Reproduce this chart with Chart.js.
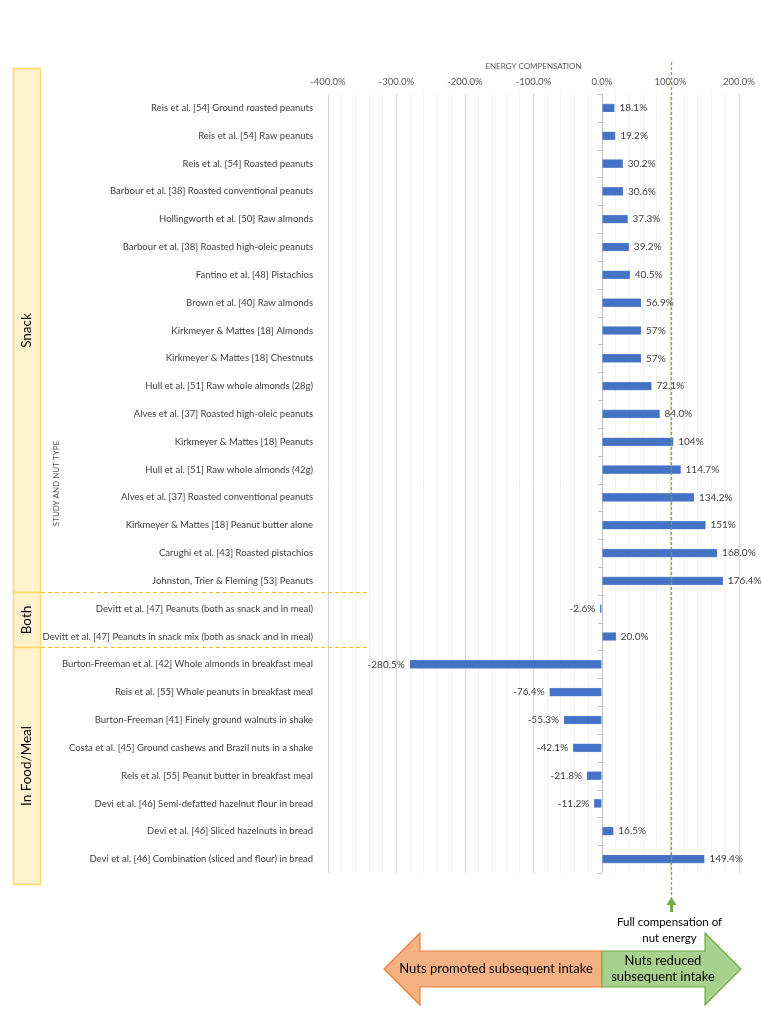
<!DOCTYPE html>
<html>
<head>
<meta charset="utf-8">
<script src="https://cdn.jsdelivr.net/npm/chart.js@4.4.1/dist/chart.umd.min.js"></script>
<style>
  html, body { margin: 0; padding: 0; background: #fff; }
  #wrap { width: 762px; height: 1016px; position: relative; }
</style>
</head>
<body>
<div id="wrap"><canvas id="chart"></canvas></div>
<script>
// study labels, top to bottom
const studies = [
    'Reis et al. [54] Ground roasted peanuts',
    'Reis et al. [54] Raw peanuts',
    'Reis et al. [54] Roasted peanuts',
    'Barbour et al. [38] Roasted conventional peanuts',
    'Hollingworth et al. [50] Raw almonds',
    'Barbour et al. [38] Roasted high-oleic peanuts',
    'Fantino et al. [48] Pistachios',
    'Brown et al. [40] Raw almonds',
    'Kirkmeyer & Mattes [18] Almonds',
    'Kirkmeyer & Mattes [18] Chestnuts',
    'Hull et al. [51] Raw whole almonds (28g)',
    'Alves et al. [37] Roasted high-oleic peanuts',
    'Kirkmeyer & Mattes [18] Peanuts',
    'Hull et al. [51] Raw whole almonds (42g)',
    'Alves et al. [37] Roasted conventional peanuts',
    'Kirkmeyer & Mattes [18] Peanut butter alone',
    'Carughi et al. [43] Roasted pistachios',
    'Johnston, Trier & Fleming [53] Peanuts',
    'Devitt et al. [47] Peanuts (both as snack and in meal)',
    'Devitt et al. [47] Peanuts in snack mix (both as snack and in meal)',
    'Burton-Freeman et al. [42] Whole almonds in breakfast meal',
    'Reis et al. [55] Whole peanuts in breakfast meal',
    'Burton-Freeman [41] Finely ground walnuts in shake',
    'Costa et al. [45] Ground cashews and Brazil nuts in a shake',
    'Reis et al. [55] Peanut butter in breakfast meal',
    'Devi et al. [46] Semi-defatted hazelnut flour in bread',
    'Devi et al. [46] Sliced hazelnuts in bread',
    'Devi et al. [46] Combination (sliced and flour) in bread'
];

const compensation = [
    18.1, 19.2, 30.2, 30.6, 37.3, 39.2, 40.5, 56.9, 57, 57,
    72.1, 84.0, 104, 114.7, 134.2, 151, 168.0, 176.4,
    -2.6, 20.0,
    -280.5, -76.4, -55.3, -42.1, -21.8, -11.2, 16.5, 149.4
];

// labels as printed in the source (mixed precision)
const valueLabels = [
    '18.1%', '19.2%', '30.2%', '30.6%', '37.3%', '39.2%', '40.5%', '56.9%', '57%', '57%',
    '72.1%', '84.0%', '104%', '114.7%', '134.2%', '151%', '168.0%', '176.4%',
    '-2.6%', '20.0%',
    '-280.5%', '-76.4%', '-55.3%', '-42.1%', '-21.8%', '-11.2%', '16.5%', '149.4%'
];

const groupNames = ['Snack', 'Both', 'In Food/Meal'];
const groupSizes = [18, 2, 8];

const xTicks = [-400, -300, -200, -100, 0, 100, 200];
const fullCompensation = 100;

const FONT = 'Lato, "Open Sans", sans-serif';

function rowEdge(yScale, i) {
    // pixel between row i-1 and row i
    return (yScale.getPixelForValue(i - 1) + yScale.getPixelForValue(i)) / 2;
}

const extrasPlugin = {
    id: 'extras',
    afterDatasetsDraw(chart) {
        const ctx = chart.ctx;
        const x = chart.scales.x;
        const y = chart.scales.y;
        const meta = chart.getDatasetMeta(0);
        const x0 = x.getPixelForValue(0);

        ctx.save();

        // small tick marks on the vertical axis at 0
        ctx.strokeStyle = '#bfbfbf';
        ctx.lineWidth = 1;
        for (let i = 0; i <= studies.length; i++) {
            let yy;
            if (i === 0) yy = chart.chartArea.top;
            else if (i === studies.length) yy = chart.chartArea.bottom;
            else yy = rowEdge(y, i);
            ctx.beginPath();
            ctx.moveTo(x0 - 4, Math.round(yy) + 0.5);
            ctx.lineTo(x0, Math.round(yy) + 0.5);
            ctx.stroke();
        }

        // value labels
        ctx.font = '10px ' + FONT;
        ctx.fillStyle = '#404040';
        ctx.textBaseline = 'middle';
        meta.data.forEach((bar, i) => {
            if (compensation[i] < 0) {
                ctx.textAlign = 'right';
                ctx.fillText(valueLabels[i], bar.x - 5, bar.y);
            } else {
                ctx.textAlign = 'left';
                ctx.fillText(valueLabels[i], bar.x + 5, bar.y);
            }
        });

        // full compensation dashed line
        const x100 = Math.round(x.getPixelForValue(fullCompensation)) + 0.5;
        ctx.strokeStyle = '#70AD47';
        ctx.lineWidth = 1.3;
        ctx.setLineDash([3, 2]);
        ctx.beginPath();
        ctx.moveTo(x100, 62);
        ctx.lineTo(x100, 898);
        ctx.stroke();
        ctx.setLineDash([]);

        // little up arrow
        ctx.fillStyle = '#70AD47';
        ctx.beginPath();
        ctx.moveTo(x100, 897);
        ctx.lineTo(x100 + 5, 905);
        ctx.lineTo(x100 + 1.5, 905);
        ctx.lineTo(x100 + 1.5, 912);
        ctx.lineTo(x100 - 1.5, 912);
        ctx.lineTo(x100 - 1.5, 905);
        ctx.lineTo(x100 - 5, 905);
        ctx.closePath();
        ctx.fill();

        // group boxes on the left
        const edges = [68];
        let acc = 0;
        groupSizes.forEach((n, g) => {
            acc += n;
            edges.push(g === groupSizes.length - 1 ? 884 : Math.round(rowEdge(y, acc)) - 3);
        });
        groupNames.forEach((name, g) => {
            const top = edges[g] + 0.5;
            const bot = edges[g + 1] + 0.5;
            ctx.fillStyle = '#FFF2CC';
            ctx.fillRect(13.5, top, 27, bot - top);
            ctx.strokeStyle = '#FFD966';
            ctx.lineWidth = 1.5;
            ctx.strokeRect(13.5, top, 27, bot - top);
            ctx.save();
            ctx.translate(27, (top + bot) / 2);
            ctx.rotate(-Math.PI / 2);
            ctx.fillStyle = '#000';
            ctx.font = '13.5px ' + FONT;
            ctx.textAlign = 'center';
            ctx.textBaseline = 'middle';
            ctx.fillText(name, 0, 0);
            ctx.restore();
        });

        // dashed group separators
        ctx.strokeStyle = '#FFC000';
        ctx.lineWidth = 1;
        ctx.setLineDash([4, 3]);
        for (let g = 1; g < groupNames.length; g++) {
            const yy = edges[g] + 0.5;
            ctx.beginPath();
            ctx.moveTo(41, yy);
            ctx.lineTo(367, yy);
            ctx.stroke();
        }
        ctx.setLineDash([]);

        // y axis title
        ctx.save();
        ctx.translate(56, (chart.chartArea.top + chart.chartArea.bottom) / 2);
        ctx.rotate(-Math.PI / 2);
        ctx.fillStyle = '#595959';
        ctx.font = '8px ' + FONT;
        ctx.textAlign = 'center';
        ctx.textBaseline = 'middle';
        ctx.fillText('STUDY AND NUT TYPE', 0, 0);
        ctx.restore();

        // bottom double arrow
        const midY = 969;
        const headTop = 933, headBot = 1005, bodyTop = 951, bodyBot = 987;
        const leftTip = x0 - 218, leftBack = x0 - 182;
        const rightTip = x0 + 139, rightBack = x0 + 103;

        ctx.lineWidth = 1.2;
        ctx.fillStyle = '#F4B183';
        ctx.strokeStyle = '#ED7D31';
        ctx.beginPath();
        ctx.moveTo(leftTip, midY);
        ctx.lineTo(leftBack, headTop);
        ctx.lineTo(leftBack, bodyTop);
        ctx.lineTo(x0, bodyTop);
        ctx.lineTo(x0, bodyBot);
        ctx.lineTo(leftBack, bodyBot);
        ctx.lineTo(leftBack, headBot);
        ctx.closePath();
        ctx.fill();
        ctx.stroke();

        ctx.fillStyle = '#A9D18E';
        ctx.strokeStyle = '#70AD47';
        ctx.beginPath();
        ctx.moveTo(x0, bodyTop);
        ctx.lineTo(rightBack, bodyTop);
        ctx.lineTo(rightBack, headTop);
        ctx.lineTo(rightTip, midY);
        ctx.lineTo(rightBack, headBot);
        ctx.lineTo(rightBack, bodyBot);
        ctx.lineTo(x0, bodyBot);
        ctx.closePath();
        ctx.fill();
        ctx.stroke();

        ctx.fillStyle = '#000';
        ctx.font = '13px ' + FONT;
        ctx.textAlign = 'center';
        ctx.textBaseline = 'middle';
        ctx.fillText('Nuts promoted subsequent intake', x0 - 106, midY);
        ctx.fillText('Nuts reduced', x0 + 61, 961);
        ctx.fillText('subsequent intake', x0 + 61, 977);

        ctx.font = '11.5px ' + FONT;
        ctx.fillText('Full compensation of', x100 - 2, 922);
        ctx.fillText('nut energy', x100 - 2, 938);

        ctx.restore();
    }
};

const chart = new Chart(document.getElementById('chart'), {
    type: 'bar',
    data: {
        labels: studies,
        datasets: [{
            label: 'Energy compensation',
            data: compensation,
            backgroundColor: '#4472C4',
            borderColor: '#6f93d3',
            borderWidth: 0.6,
            barThickness: 8
        }]
    },
    options: {
        indexAxis: 'y',
        responsive: true,
        maintainAspectRatio: false,
        animation: false,
        layout: { padding: { top: 60, right: 23, bottom: 143, left: 0 } },
        plugins: {
            legend: { display: false },
            tooltip: { enabled: false }
        },
        scales: {
            x: {
                position: 'top',
                min: -400,
                max: 200,
                afterFit: s => { s.height = 34; },
                afterBuildTicks: s => {
                    // gridline every 20%, labels only on the 100% steps
                    const ticks = [];
                    for (let v = -400; v <= 200; v += 20) ticks.push({ value: v });
                    s.ticks = ticks;
                },
                ticks: {
                    autoSkip: false,
                    maxRotation: 0,
                    padding: 6,
                    color: '#595959',
                    font: { family: FONT, size: 9.5 },
                    callback: v => xTicks.includes(v) ? v.toFixed(1) + '%' : ''
                },
                grid: {
                    drawTicks: false,
                    color: c => {
                        const v = c.tick ? c.tick.value : 1;
                        if (v === 0) return '#bfbfbf';
                        return xTicks.includes(v) ? '#d9d9d9' : '#f2f2f2';
                    }
                },
                border: { display: false },
                title: {
                    display: true,
                    text: 'ENERGY COMPENSATION',
                    color: '#595959',
                    font: { family: FONT, size: 8 },
                    padding: { top: 2, bottom: 0 }
                }
            },
            y: {
                afterFit: s => { s.width = 328; },
                ticks: {
                    autoSkip: false,
                    padding: 7,
                    color: '#404040',
                    font: { family: FONT, size: 9.5 }
                },
                grid: { display: false },
                border: { display: false }
            }
        }
    },
    plugins: [extrasPlugin]
});
</script>
</body>
</html>
